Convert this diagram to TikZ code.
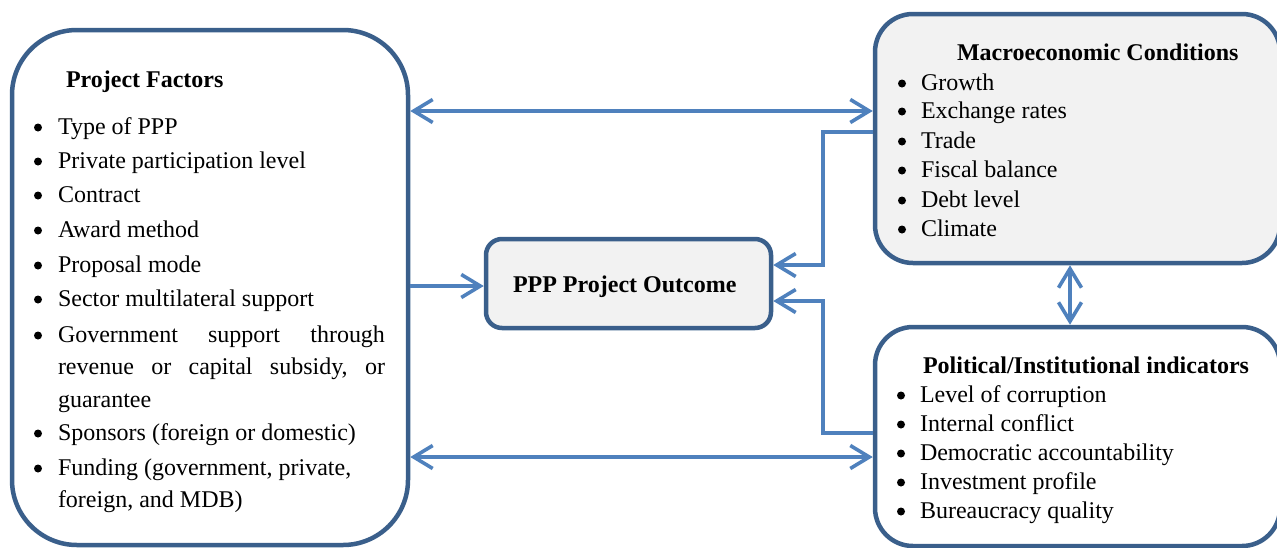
\documentclass[tikz,border=0pt]{standalone}
\usepackage{fontspec}
\setmainfont{Liberation Serif}
\usetikzlibrary{arrows.meta}
\definecolor{boxline}{RGB}{58,95,139}
\definecolor{arrowc}{RGB}{79,129,189}
\definecolor{boxfill}{RGB}{242,242,242}
\tikzset{
  boxshape/.style={draw=boxline, line width=4.5pt, inner sep=0pt},
  conn/.style={draw=arrowc, line width=3.3pt},
  barb/.tip={Straight Barb[length=19pt,width=23pt,line width=3.6pt]},
  onetip/.style={-barb},
  twotip/.style={barb-barb},
  txt/.style={anchor=base west, inner sep=0pt, outer sep=0pt, font=\fontsize{24}{29}\selectfont},
  hd/.style={txt, font=\fontsize{24}{29}\selectfont\bfseries},
  bul/.style={circle, fill=black, inner sep=0pt, minimum size=8pt, yshift=6.5pt},
}
\begin{document}
\begin{tikzpicture}[x=1pt,y=-1pt]
\useasboundingbox (0,0) rectangle (1277,547);
% boxes
\node[boxshape, fill=white, rounded corners=65pt, minimum width=396pt, minimum height=515pt] (pf) at (210,287.5) {};
\node[boxshape, fill=boxfill, rounded corners=38pt, minimum width=405pt, minimum height=249pt] (mc) at (1077.5,138.5) {};
\node[boxshape, fill=white, rounded corners=38pt, minimum width=405pt, minimum height=219pt] (pi) at (1077.5,436.5) {};
\node[boxshape, fill=boxfill, rounded corners=16pt, minimum width=285pt, minimum height=89pt] (po) at (628.5,283.5) {};

% Project Factors text
\node[hd] (pfh) at (66,87) {Project Factors};
\foreach \y/\t [count=\i] in {134/Type of PPP,168/Private participation level,202/Contract,237/Award method,272/Proposal mode,306/Sector multilateral support,342/{\hbox to 327pt{Government\hfill support\hfill through}},440/Sponsors (foreign or domestic),475/{Funding (government, private,}}{
  \node[bul] (pfb\i) at (38,\y) {};
  \node[txt] (pft\i) at (58,\y) {\t};
}
\node[txt] (pfc1) at (58,374) {\hbox to 327pt{revenue\hfill or\hfill capital\hfill subsidy,\hfill or}};
\node[txt] (pfc2) at (58,407) {guarantee};
\node[txt] (pfc3) at (58,507) {foreign, and MDB)};

% Macroeconomic Conditions
\node[hd] (mch) at (957,60) {Macroeconomic Conditions};
\foreach \y/\t [count=\i] in {90/Growth,118/Exchange rates,148/Trade,177/Fiscal balance,207/Debt level,236/Climate}{
  \node[bul] (mcb\i) at (902,\y) {};
  \node[txt] (mct\i) at (921,\y) {\t};
}

% Political/Institutional indicators
\node[hd] (pih) at (923,373) {Political/Institutional indicators};
\foreach \y/\t [count=\i] in {402/Level of corruption,431/Internal conflict,460/Democratic accountability,489/Investment profile,518/Bureaucracy quality}{
  \node[bul] (pib\i) at (901,\y) {};
  \node[txt] (pit\i) at (920,\y) {\t};
}

% Outcome
\node[hd] (poh) at (513,292) {PPP Project Outcome};

% helper coordinates
\coordinate (ya) at (0,111);
\coordinate (yb) at (0,132);
\coordinate (yc) at (0,265);
\coordinate (yd) at (0,286);
\coordinate (ye) at (0,301);
\coordinate (yf) at (0,433);
\coordinate (yg) at (0,457);
\coordinate (xv) at (823,0);
\coordinate (xm) at (1070,0);

% connectors
\draw[conn, twotip] (pf.east |- ya) -- (mc.west |- ya);
\draw[conn, onetip] (mc.west |- yb) -- (xv |- yb) -- (xv |- yc) -- (po.east |- yc);
\draw[conn, onetip] (pf.east |- yd) -- (po.west |- yd);
\draw[conn, onetip] (pi.west |- yf) -- (xv |- yf) -- (xv |- ye) -- (po.east |- ye);
\draw[conn, twotip] (pf.east |- yg) -- (pi.west |- yg);
\draw[conn, twotip] (mc.south -| xm) -- (pi.north -| xm);
\end{tikzpicture}
\end{document}
